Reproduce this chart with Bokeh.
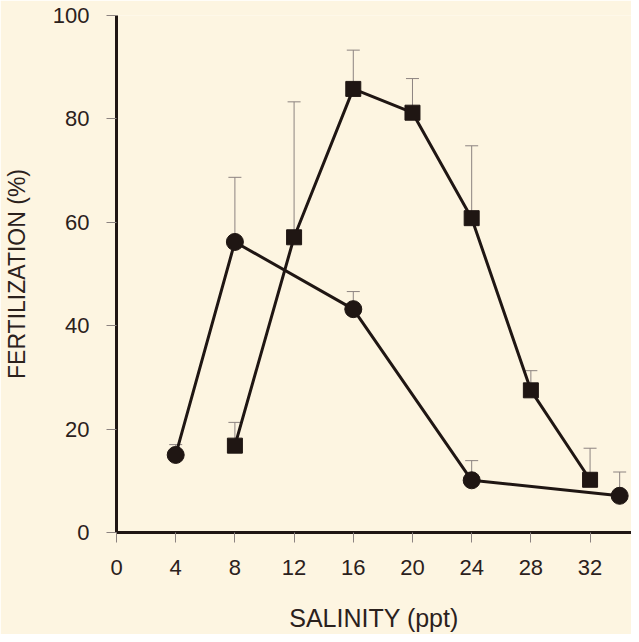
from bokeh.plotting import figure
from bokeh.models import ColumnDataSource, Whisker, FixedTicker, TeeHead
from bokeh.embed import file_html
from bokeh.resources import INLINE

# Data
circle_x = [4, 8, 16, 24, 34]
circle_y = [15.0, 56.2, 43.2, 10.1, 7.1]
circle_err = [2.0, 12.5, 3.4, 3.8, 4.6]

square_x = [8, 12, 16, 20, 24, 28, 32]
square_y = [16.8, 57.1, 85.8, 81.2, 60.8, 27.5, 10.2]
square_err = [4.5, 26.2, 7.5, 6.6, 14.0, 3.8, 6.1]

x_ticks = [0, 4, 8, 12, 16, 20, 24, 28, 32]
y_ticks = [0, 20, 40, 60, 80, 100]

BG = "#fdf5e1"
INK = "#1f1613"
TXT = "#2b211c"
GREY = "#8c8380"
FONT = "Liberation Sans"

p = figure(width=631, height=634, x_range=(0, 34.8), y_range=(0, 100),
           output_backend="svg", toolbar_location=None,
           min_border_left=109, min_border_right=0, min_border_top=15, min_border_bottom=99)
p.background_fill_color = BG
p.border_fill_color = BG
p.outline_line_color = None
p.grid.visible = False

for ax in (p.xaxis[0], p.yaxis[0]):
    ax.axis_line_width = 3
    ax.axis_line_color = INK
    ax.major_tick_line_color = GREY
    ax.major_tick_line_width = 1
    ax.major_tick_out = 10
    ax.major_tick_in = 0
    ax.minor_tick_line_color = None
    ax.major_label_text_font = FONT
    ax.major_label_text_font_size = "22px"
    ax.major_label_text_color = TXT
    ax.axis_label_text_font = FONT
    ax.axis_label_text_font_style = "normal"
    ax.axis_label_text_color = TXT

p.xaxis[0].ticker = FixedTicker(ticks=x_ticks)
p.yaxis[0].ticker = FixedTicker(ticks=y_ticks)
p.yaxis[0].bounds = (0, 100)
p.xaxis[0].axis_label = "SALINITY (ppt)"
p.yaxis[0].axis_label = "FERTILIZATION (%)"
p.xaxis[0].axis_label_text_font_size = "25px"
p.yaxis[0].axis_label_text_font_size = "23px"
p.xaxis[0].major_label_standoff = 17
p.yaxis[0].major_label_standoff = 17
p.xaxis[0].axis_label_standoff = 26
p.yaxis[0].axis_label_standoff = 20

cs = ColumnDataSource(dict(x=circle_x, y=circle_y,
                           top=[a + b for a, b in zip(circle_y, circle_err)]))
ss = ColumnDataSource(dict(x=square_x, y=square_y,
                           top=[a + b for a, b in zip(square_y, square_err)]))

for src in (cs, ss):
    w = Whisker(base="x", lower="y", upper="top", source=src,
                line_color=GREY, line_width=1,
                upper_head=TeeHead(size=13, line_color=GREY, line_width=1),
                lower_head=None)
    p.add_layout(w)

p.line("x", "y", source=cs, line_color=INK, line_width=3)
p.line("x", "y", source=ss, line_color=INK, line_width=3)
p.scatter("x", "y", source=cs, marker="circle", size=17, fill_color=INK, line_color=INK)
p.scatter("x", "y", source=ss, marker="square", size=15, fill_color=INK, line_color=INK)

open("out.html", "w").write(file_html(p, INLINE))
